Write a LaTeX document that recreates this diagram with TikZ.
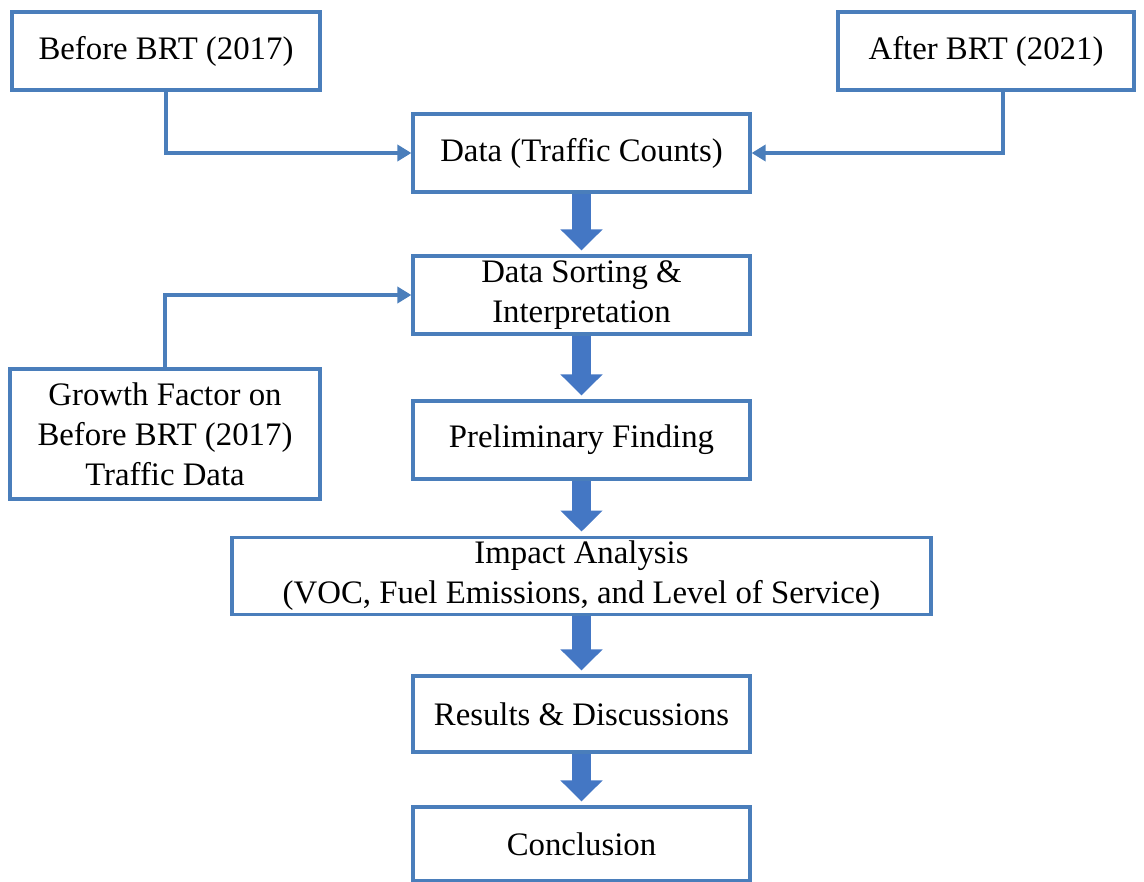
\documentclass[tikz,border=0pt]{standalone}
\usepackage{fontspec}
\setmainfont{Liberation Serif}
\usetikzlibrary{arrows.meta}
\definecolor{boxblue}{RGB}{74,126,187}
\definecolor{arrowblue}{RGB}{68,119,196}
\tikzset{
	stepbox/.style={draw=boxblue, line width=1.6pt, fill=white, align=center, inner sep=2pt,
		font=\fontsize{16.4}{20}\selectfont},
	feed/.style={draw=boxblue, line width=2.4pt, -{Triangle[width=8pt,length=7pt]}},
	flow/.style={draw=arrowblue, line width=9.5pt, shorten >=2pt,
		-{Triangle[width=20.5pt,length=10.5pt]}}
}
\begin{document}
\begin{tikzpicture}[x=0.5pt, y=-0.5pt, line join=miter]
	\useasboundingbox (0,0) rectangle (1144,882);
	% boxes
	\node[stepbox, minimum width=154pt, minimum height=39pt] (before) at (166,51) {Before BRT (2017)};
	\node[stepbox, minimum width=148pt, minimum height=39pt] (after) at (986,51) {After BRT (2021)};
	\node[stepbox, minimum width=168.5pt, minimum height=39pt] (data) at (581.5,153) {Data (Traffic Counts)};
	\node[stepbox, minimum width=168.5pt, minimum height=39pt] (sort) at (581.5,295) {Data Sorting \&\\Interpretation};
	\node[stepbox, minimum width=155pt, minimum height=65pt] (growth) at (165,434) {Growth Factor on\\Before BRT (2017)\\Traffic Data};
	\node[stepbox, minimum width=168.5pt, minimum height=39pt] (prelim) at (581.5,440) {Preliminary Finding};
	\node[stepbox, minimum width=349.5pt, minimum height=38pt] (impact) at (581.5,576) {Impact Analysis\\(VOC, Fuel Emissions, and Level of Service)};
	\node[stepbox, minimum width=168.5pt, minimum height=38pt] (results) at (581.5,714) {Results \& Discussions};
	\node[stepbox, minimum width=168.5pt, minimum height=37pt] (concl) at (581.5,844) {Conclusion};
	% inputs
	\draw[feed] (before.south) |- (data.west);
	\draw[feed] ([xshift=8.5pt]after.south) |- (data.east);
	\draw[feed] (growth.north) |- (sort.west);
	% main flow
	\foreach \a/\b in {data/sort, sort/prelim, prelim/impact, impact/results, results/concl}
		\draw[flow] (\a.south) -- (\b.north);
\end{tikzpicture}
\end{document}
